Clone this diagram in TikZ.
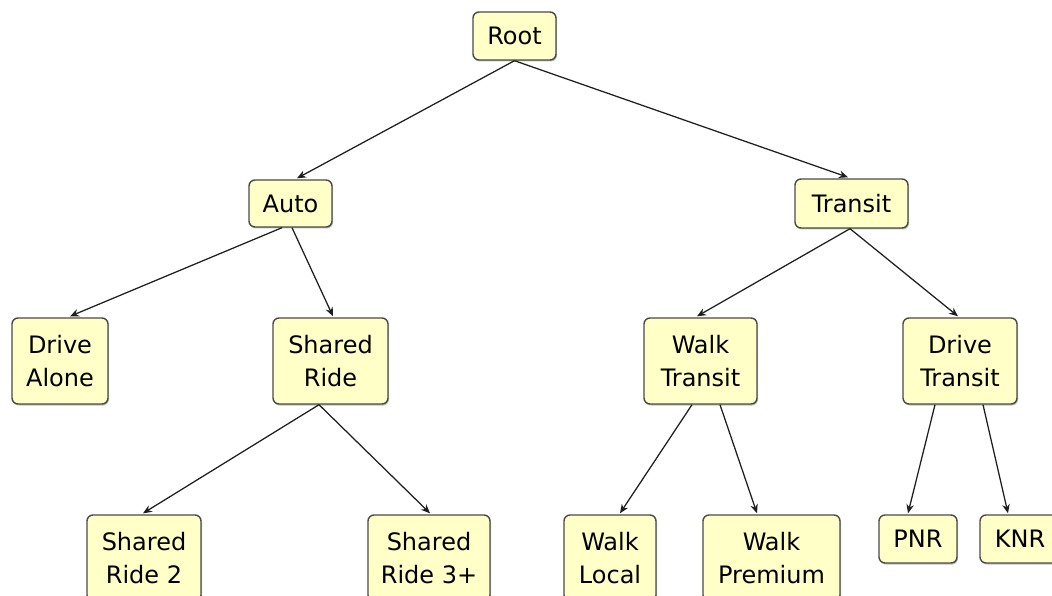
\documentclass[tikz,border=0pt]{standalone}
\usepackage{fontspec}
\setmainfont{DejaVu Sans}
\usetikzlibrary{arrows.meta,calc,shadows}
\definecolor{boxfill}{HTML}{FFFFC8}
\definecolor{boxline}{HTML}{4A4A4A}
\definecolor{edgecol}{HTML}{1E1E1E}
\begin{document}
\begin{tikzpicture}[x=1pt,y=-1pt,
  box/.style={draw=boxline, line width=1.4pt, fill=boxfill, rounded corners=6pt,
    align=center, inner sep=2pt, font=\fontsize{24}{32.5}\selectfont,
    drop shadow={shadow xshift=1pt, shadow yshift=-1.5pt, fill=black, opacity=0.25}},
  small/.style={box, minimum height=48pt},
  tall/.style={box, minimum height=86pt},
  edge/.style={draw=edgecol, line width=1.25pt, -{Stealth[length=9pt,width=7.5pt]}}
]
\useasboundingbox (0,0) rectangle (1052,596);
\clip (0,0) rectangle (1052,596);
\fill[white] (0,0) rectangle (1052,596);

\node[small, minimum width=83pt] (root) at (514.5,36) {Root};
\node[small, minimum width=83pt, minimum height=47pt] (auto) at (290.5,203.5) {Auto};
\node[small, minimum width=113pt, minimum height=49pt] (transit) at (851.5,203.5) {Transit};

\node[tall, minimum width=96pt] (dalone) at (60,361) {Drive\\Alone};
\node[tall, minimum width=115pt] (sride) at (330.5,361) {Shared\\Ride};
\node[tall, minimum width=113pt] (wtransit) at (700.5,361) {Walk\\Transit};
\node[tall, minimum width=114pt] (dtransit) at (960,361) {Drive\\Transit};

\node[tall, minimum width=114pt] (sr2) at (144,558) {Shared\\Ride 2};
\node[tall, minimum width=122pt] (sr3) at (429,558) {Shared\\Ride 3+};
\node[tall, minimum width=92pt] (wlocal) at (610,558) {Walk\\Local};
\node[tall, minimum width=137pt] (wprem) at (771.5,558) {Walk\\Premium};
\node[small, minimum width=78pt] (pnr) at (918,539) {PNR};
\node[small, minimum width=80pt] (knr) at (1020,539) {KNR};

\draw[edge] (root.south) -- ($(auto.north)+(6.5,-1)$);
\draw[edge] (root.south) -- ($(transit.north)+(-3.5,-1)$);
\draw[edge] ($(auto.south)+(-8.5,0)$) -- ($(dalone.north)+(10,-1)$);
\draw[edge] ($(auto.south)+(1.5,0)$) -- ($(sride.north)+(2.5,-1)$);
\draw[edge] ($(transit.south)+(-1.5,0)$) -- ($(wtransit.north)+(-3.5,-1)$);
\draw[edge] ($(transit.south)+(-1.5,0)$) -- ($(dtransit.north)+(-2,-1)$);
\draw[edge] ($(sride.south)+(-11.5,0)$) -- ($(sr2.north)+(-1,-1)$);
\draw[edge] ($(sride.south)+(-11.5,0)$) -- ($(sr3.north)+(1,-1)$);
\draw[edge] ($(wtransit.south)+(-8.5,0)$) -- ($(wlocal.north)+(10,-1)$);
\draw[edge] ($(wtransit.south)+(19.5,0)$) -- ($(wprem.north)+(-14.5,-1)$);
\draw[edge] ($(dtransit.south)+(-25,0)$) -- ($(pnr.north)+(-10,-1)$);
\draw[edge] ($(dtransit.south)+(23,0)$) -- ($(knr.north)+(-12,-1)$);
\end{tikzpicture}
\end{document}
